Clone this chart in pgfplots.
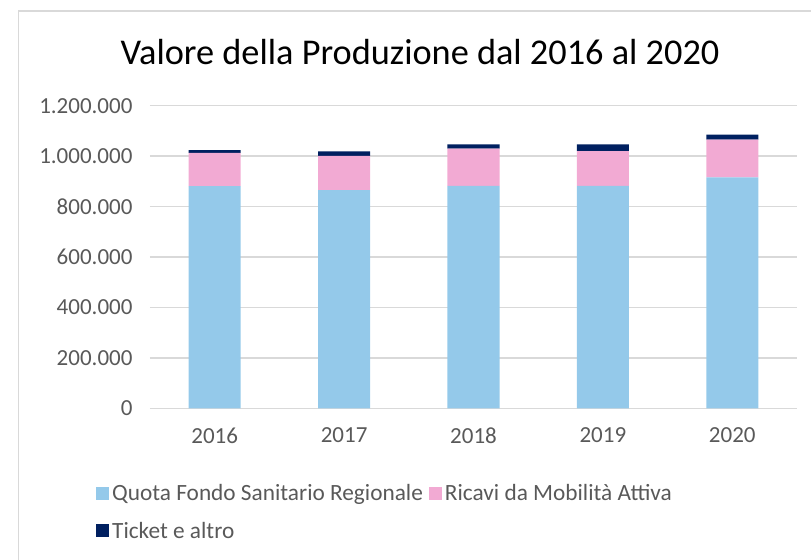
\documentclass[border=0pt]{standalone}
\usepackage{pgfplots}
\pgfplotsset{compat=1.18}
\usepackage{pgfplotstable}
\usepackage{fontspec}
\setmainfont{Carlito}
\definecolor{cblue}{HTML}{94C9EA}
\definecolor{cpink}{HTML}{F2AAD3}
\definecolor{cnavy}{HTML}{002060}
\definecolor{cgrid}{HTML}{D9D9D9}
\definecolor{ctext}{HTML}{595959}
\pgfplotstableread{
x year fsr mob ticket
0 2016 881000 132000 11000
1 2017 865000 136000 17500
2 2018 882500 147000 17000
3 2019 882500 137500 26500
4 2020 915500 150000 20000
}\data
\begin{document}
\begin{tikzpicture}
\begin{axis}[
  scale only axis,
  width=647bp, height=302.6bp,
  at={(0,0)}, anchor=south west,
  ybar stacked, bar width=52bp,
  xmin=-0.5, xmax=4.5,
  ymin=0, ymax=1200000,
  xtick={0,1,2,3,4},
  xticklabels={2016,2017,2018,2019,2020},
  ytick={0,200000,400000,600000,800000,1000000,1200000},
  scaled y ticks=false,
  /pgf/number format/.cd, fixed, 1000 sep={.}, assume math mode=true,
  /pgfplots/.cd,
  axis line style={draw=none},
  major tick length=0pt,
  ymajorgrids, grid style={cgrid, line width=1.3bp},
  tick label style={font=\fontsize{23bp}{27bp}\selectfont, text=ctext},
  yticklabel style={xshift=-14bp},
  xticklabel style={yshift=-16bp},
  legend style={draw=none, fill=none, at={(-57bp,-72bp)}, anchor=north west,
    font=\fontsize{23.3bp}{27bp}\selectfont, text=ctext,
    legend cell align=left, row sep=16bp,
    nodes={inner xsep=3bp},
    /tikz/every even column/.append style={column sep=3bp}},
  legend columns=2,
  legend image code/.code={\fill[#1] (0bp,-6.5bp) rectangle (13bp,6.5bp);},
]
\addplot[fill=cblue, draw=none] table[x=x, y=fsr] {\data};
\addlegendentry{Quota Fondo Sanitario Regionale}
\addplot[fill=cpink, draw=none] table[x=x, y=mob] {\data};
\addlegendentry{Ricavi da Mobilità Attiva}
\addplot[fill=cnavy, draw=none] table[x=x, y=ticket] {\data};
\addlegendentry{Ticket e altro}
\end{axis}
\node[font=\fontsize{36.3bp}{43bp}\selectfont, text=black] at (270bp,356bp) {Valore della Produzione dal 2016 al 2020};
\draw[cgrid, line width=1.5bp] (-131.5bp,-160bp) -- (-131.5bp,397.3bp) -- (670bp,397.3bp);
\pgfresetboundingbox
\path[use as bounding box] (-150bp,-151.7bp) rectangle (661bp,408.3bp);
\end{tikzpicture}
\end{document}
